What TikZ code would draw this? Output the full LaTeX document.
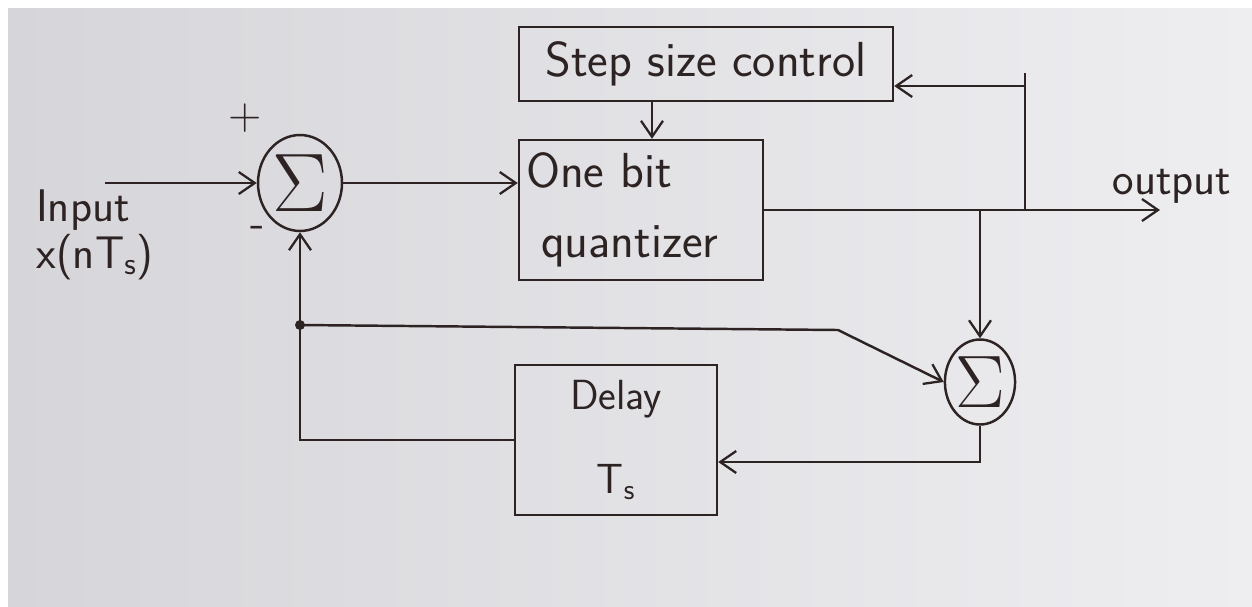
\documentclass[tikz,border=0pt]{standalone}
\usetikzlibrary{arrows.meta,shapes.geometric}
\definecolor{ink}{RGB}{45,35,35}
\definecolor{paperL}{RGB}{214,214,218}
\definecolor{paperR}{RGB}{238,238,241}
\begin{document}
\begin{tikzpicture}[x=0.02cm,y=-0.02cm,
  line width=1.4pt, draw=ink, text=ink,
  font=\sffamily\fontsize{26}{30}\selectfont,
  arr/.style={-{Straight Barb[length=3.2mm,width=4.4mm,line width=1.3pt]}},
  blk/.style={draw=ink, rectangle, inner sep=4pt},
  sumnode/.style={draw=ink, ellipse, inner sep=0pt},
  txt/.style={inner sep=1pt}]
\useasboundingbox (0,0) rectangle (1252,606);
\fill[white] (0,0) rectangle (1252,606);
\shade[left color=paperL, right color=paperR] (8,8) rectangle (1252,606);

% blocks
\node[blk, minimum width=7.48cm, minimum height=1.48cm, font=\sffamily\fontsize{28}{32}\selectfont] (step) at (706,64) {Step size control};
\node[blk, minimum width=4.88cm, minimum height=2.8cm, text width=4.6cm, align=left, font=\sffamily\fontsize{28}{40}\selectfont] (quant) at (641,210) {One bit\\\hspace*{0.3cm}quantizer};
\node[blk, minimum width=4.04cm, minimum height=3cm, align=center, font=\sffamily\fontsize{24}{28}\selectfont] (delay) at (616,440) {Delay\\[0.7cm]T\textsubscript{s}};
\node[sumnode, minimum width=1.68cm, minimum height=1.92cm] (s1) at (300,183) {\scalebox{1.9}{$\Sigma$}};
\node[sumnode, minimum width=1.32cm, minimum height=1.7cm] (s2) at (980,382) {\scalebox{1.7}{$\Sigma$}};

% labels
\node[txt] (plus) at (245,118) {+};
\node[txt] (minus) at (258,232) {-};
\node[txt] (inp) at (83,210) {Input};
\node[txt] (xin) at (95,257) {x(nT\textsubscript{s})};
\node[txt] (outl) at (1172,186) {output};

% coordinates
\coordinate (in) at (105,183);
\coordinate (out) at (1160,210);
\coordinate (b1) at (1025,210);
\coordinate (b2) at (980,210);
\coordinate (tt) at (1025,73);
\coordinate (t1) at (1025,86);
\coordinate (sq) at (652,0);
\coordinate (fb) at (300,325);
\coordinate (bend) at (838,330);
\coordinate (dl) at (300,440);
\coordinate (dr) at (980,462);

% connectors
\draw[arr] (in) -- (s1.west);
\draw[arr] (s1.east) -- (s1.east -| quant.west);
\draw[arr] (step.south -| sq) -- (quant.north -| sq);
\draw[arr] (quant.east) -- (out);
\draw (b1) -- (tt);
\draw[arr] (t1) -- (step.east |- t1);
\draw[arr] (b2) -- (s2.north);
\draw[arr] (fb) -- (bend) -- (s2.west);
\draw[arr] (delay.west) -- (dl) -- (s1.south);
\draw[arr] (s2.south) -- (dr) -- (delay.east |- dr);
\fill[ink] (fb) circle (0.1cm);
\end{tikzpicture}
\end{document}
